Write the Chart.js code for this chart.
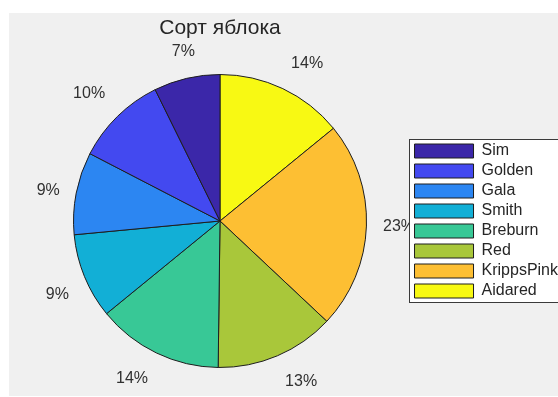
<!DOCTYPE html>
<html>
<head>
<meta charset="utf-8">
<script src="https://cdn.jsdelivr.net/npm/chart.js@4.4.1/dist/chart.umd.min.js"></script>
<style>
  html, body { margin: 0; padding: 0; background: #ffffff; overflow: hidden; }
  #wrap { width: 558px; height: 397px; overflow: hidden; position: relative; }
  canvas { display: block; }
</style>
</head>
<body>
<div id="wrap"><canvas id="c" width="568" height="402"></canvas></div>
<script>
// ---- data (MATLAB pie order: counter-clockwise from the top) ----
const categories = ['Sim', 'Golden', 'Gala', 'Smith', 'Breburn', 'Red', 'KrippsPink', 'Aidared'];
const shares = [7.3, 10.1, 9.1, 9.4, 13.9, 13.2, 22.9, 14.1];
const chartTitle = 'Сорт яблока';

// ---- styles ----
const sliceColors = ['#3b27a9', '#4349f0', '#2c86f2', '#12afd6', '#38c896', '#a9c73a', '#fdbf33', '#f8f913'];
const FONT = '"Liberation Sans", Arial, Helvetica, sans-serif';

// Chart.js draws clockwise, MATLAB counter-clockwise: reverse for drawing
const rev = a => a.slice().reverse();
const total = shares.reduce((s, v) => s + v, 0);

const decor = {
  id: 'decor',
  beforeDraw(chart) {
    const ctx = chart.ctx;
    ctx.save();
    ctx.fillStyle = '#ffffff';
    ctx.fillRect(0, 0, chart.width, chart.height);
    ctx.fillStyle = '#f0f0f0';
    ctx.fillRect(9, 13, chart.width - 9, 383);

    // percentage labels: anchored at 1.1 r on each slice's mid angle, aligned outward
    const meta = chart.getDatasetMeta(0);
    const vals = chart.data.datasets[0].data;
    ctx.font = '16px ' + FONT;
    ctx.fillStyle = '#303030';
    ctx.textAlign = 'center';
    ctx.textBaseline = 'middle';
    meta.data.forEach((arc, i) => {
      const p = arc.getProps(['x', 'y', 'startAngle', 'endAngle', 'outerRadius'], true);
      const mid = (p.startAngle + p.endAngle) / 2;
      const c = Math.cos(mid), s = Math.sin(mid);
      const rr = p.outerRadius * 1.1;
      const txt = Math.round(vals[i] / total * 100) + '%';
      const w = ctx.measureText(txt).width;
      const dx = Math.abs(c) < 0.3 ? 0 : Math.sign(c) * (w / 2 + 2);
      const dy = Math.abs(s) < 0.3 ? 0 : Math.sign(s) * 12;
      ctx.fillText(txt, p.x + c * rr + dx, p.y + s * rr + dy);
    });

    // legend frame (white box with a thin border)
    const lg = chart.legend;
    const pad = lg.options.labels.padding;
    const colH = lg.columnSizes[0].height;
    const y0 = (lg.top + pad + lg.bottom - colH) / 2;
    const bx = Math.round(lg.left + pad - 6) + 0.5;
    const by = Math.round(y0 - 4.5) + 0.5;
    ctx.fillStyle = '#ffffff';
    ctx.fillRect(bx, by, chart.width, 163);
    ctx.strokeStyle = '#3a3a3a';
    ctx.lineWidth = 1;
    ctx.strokeRect(bx, by, chart.width, 163);
    ctx.restore();
  }
};

new Chart(document.getElementById('c'), {
  type: 'pie',
  data: {
    labels: rev(categories),
    datasets: [{
      data: rev(shares),
      backgroundColor: rev(sliceColors),
      borderColor: '#1e1e1e',
      borderWidth: 1,
      hoverOffset: 0,
      radius: 146.5
    }]
  },
  options: {
    responsive: false,
    animation: false,
    events: [],
    layout: { padding: { left: 29.5, right: 0, top: 40, bottom: 0 } },
    plugins: {
      tooltip: { enabled: false },
      title: {
        display: true,
        text: chartTitle,
        fullSize: false,
        color: '#262626',
        font: { family: FONT, size: 21, weight: 'normal', lineHeight: 1.2 },
        padding: { top: -24.6, bottom: -0.6 }
      },
      legend: {
        position: 'right',
        reverse: true,
        labels: {
          boxWidth: 59,
          boxHeight: 14,
          padding: 4,
          color: '#262626',
          font: { family: FONT, size: 16 }
        }
      }
    }
  },
  plugins: [decor]
});
</script>
</body>
</html>
